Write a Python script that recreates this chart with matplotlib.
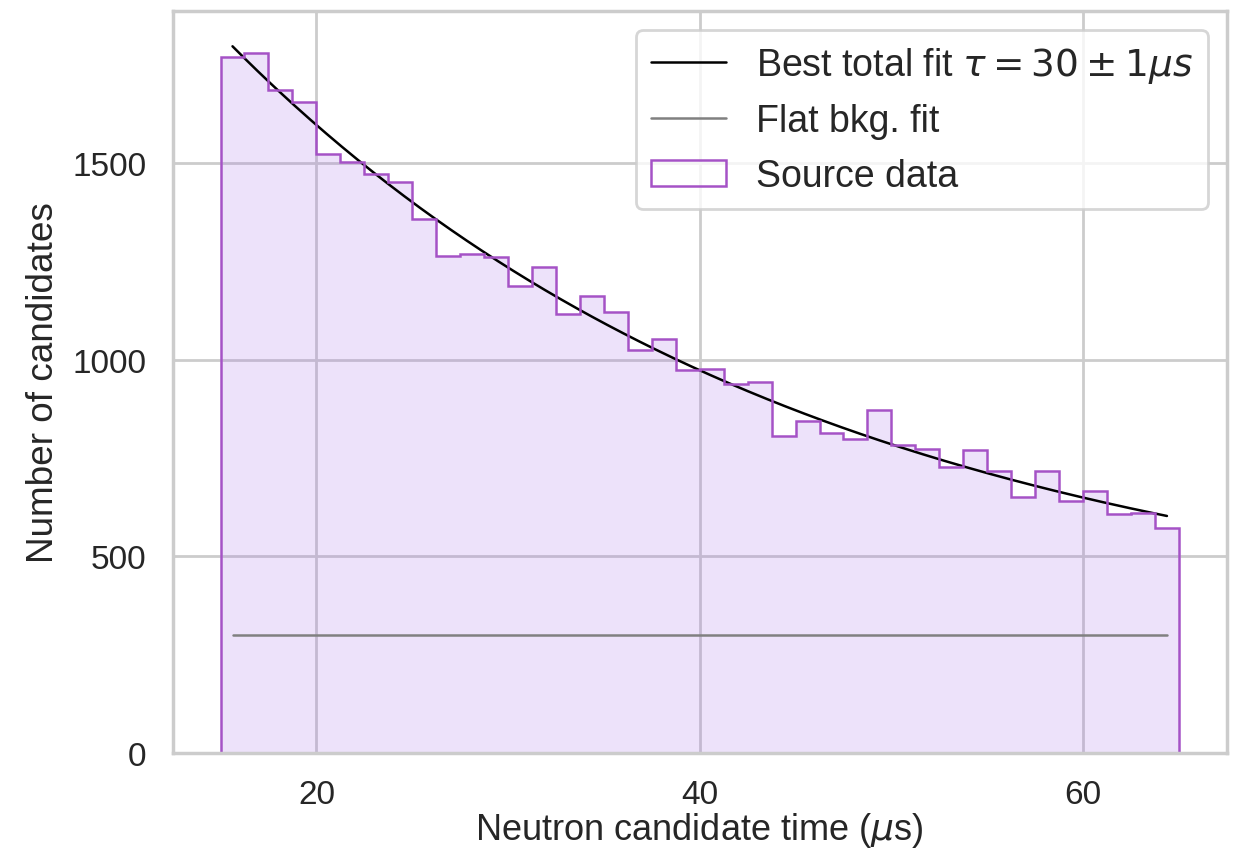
import numpy as np
import matplotlib
matplotlib.use("Agg")
import matplotlib.pyplot as plt
import seaborn as sns

# Histogram: 40 bins of width 1.25 us from 15 to 65 us
bin_edges = np.linspace(15, 65, 41)
counts = [1770, 1778, 1684, 1655, 1522, 1502, 1471, 1450, 1358, 1263,
          1268, 1260, 1186, 1234, 1116, 1162, 1120, 1023, 1051, 974,
          975, 938, 943, 806, 844, 814, 799, 873, 782, 772,
          728, 770, 717, 650, 717, 641, 666, 607, 611, 573]

# Fit parameters (exponential + flat background)
fit_amp = 2497.0
fit_tau = 30.5
bkg_level = 300.0

sns.set_theme(style="whitegrid")
plt.rcParams['font.family'] = ['Liberation Sans', 'DejaVu Sans']

fig, ax = plt.subplots(figsize=(6.165, 4.27), dpi=200)
centers = 0.5 * (bin_edges[:-1] + bin_edges[1:])
t = np.linspace(centers[0], centers[-1], 300)

ax.plot(t, fit_amp * np.exp(-t / fit_tau) + bkg_level, color='black', lw=0.9,
        label=r'Best total fit $\tau = 30 \pm 1 \mu s$')
ax.plot(t, np.full_like(t, bkg_level), color='gray', lw=0.9, label='Flat bkg. fit')
ax.hist(centers, bins=bin_edges, weights=counts, histtype='stepfilled',
        color='#a66fe6', alpha=0.2)
ax.hist(centers, bins=bin_edges, weights=counts, histtype='step',
        color='#a552c6', lw=0.9, label='Source data')

ax.set_xlabel(r'Neutron candidate time ($\mu$s)', fontsize=13, labelpad=0)
ax.set_ylabel('Number of candidates', fontsize=13.3, labelpad=4)
ax.tick_params(labelsize=12)
ax.set_xticks([20, 40, 60])
ax.set_yticks([0, 500, 1000, 1500])
leg = ax.legend(loc='upper right', fontsize=13.5)

fig.subplots_adjust(left=0.14, right=0.995, top=0.986, bottom=0.117)
fig.savefig('out.png', dpi=200)
